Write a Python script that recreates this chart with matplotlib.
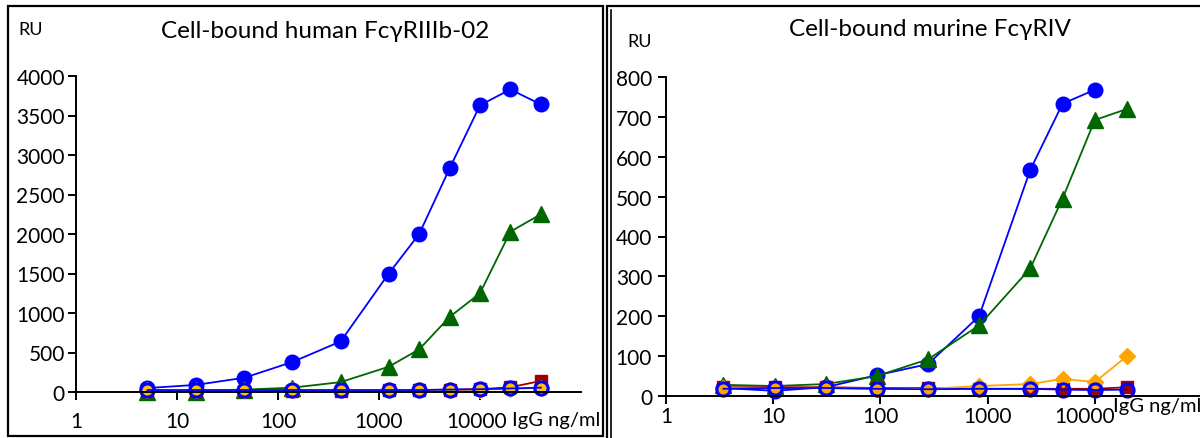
import numpy as np
import matplotlib.pyplot as plt
from matplotlib.patches import Rectangle
from matplotlib.lines import Line2D
from matplotlib.transforms import ScaledTranslation
from matplotlib.ticker import FixedLocator, FixedFormatter, NullLocator

plt.rcParams.update({
    "font.family": ["Lato", "DejaVu Sans"],
})

# IgG concentrations (ng/ml)
conc_human = [5.1, 15.4, 46.3, 139, 417, 1250, 2500, 5000, 10000, 20000, 40000]
conc_murine = [3.43, 10.3, 30.9, 92.6, 278, 833, 2500, 5000, 10000, 20000]

# response units, human FcgRIIIb-02 cells
human_blue = [50, 90, 180, 380, 640, 1500, 2000, 2830, 3630, 3830, 3640]
human_green = [0, 5, 30, 55, 125, 320, 540, 950, 1250, 2030, 2250]
human_red = [15, 15, 15, 15, 15, 20, 25, 30, 35, 60, 140]
human_orange = [20, 20, 20, 20, 20, 20, 25, 25, 30, 40, 50]
human_open = [25, 25, 25, 25, 25, 25, 25, 30, 35, 45, 55]

# response units, murine FcgRIV cells (blue series stops at 10000)
murine_blue = [20, 13, 22, 52, 80, 200, 567, 733, 768]
murine_green = [28, 25, 30, 50, 92, 177, 320, 495, 692, 720]
murine_red = [22, 22, 22, 20, 20, 18, 18, 18, 18, 22]
murine_orange = [20, 20, 20, 18, 18, 25, 30, 43, 35, 100]
murine_open = [18, 20, 20, 18, 17, 18, 18, 16, 15, 16]

decades = [1, 10, 100, 1000, 10000]
decade_labels = ["1", "10", "100", "1000", "10000"]

W, H = 1200, 439
fig = plt.figure(figsize=(W / 100, H / 100), dpi=100)


def px_box(x0, y0, x1, y1):
    # pixel box (top-left origin) -> figure fraction [left, bottom, width, height]
    return [x0 / W, 1 - y1 / H, (x1 - x0) / W, (y1 - y0) / H]


def frame(x0, y0, x1, y1, lw=1.6):
    b = px_box(x0, y0, x1, y1)
    fig.add_artist(Rectangle((b[0], b[1]), b[2], b[3], transform=fig.transFigure,
                             fill=False, edgecolor="black", linewidth=lw, clip_on=False))


frame(8, 7, 603, 437)
frame(607, 7, 1205, 445)
fig.add_artist(Line2D([611 / W, 611 / W], [1 - 11 / H, 0], transform=fig.transFigure,
                      color="black", linewidth=1.2))


def draw_panel(ax, x, series, ymax, ystep, orange_col):
    blue, green, red, orange, hollow = series
    kw = dict(clip_on=False, linewidth=1.3)
    ax.plot(x[:len(blue)], blue, color="#0000FF", marker="o", markersize=10.5,
            markeredgecolor="#0000FF", **kw)
    ax.plot(x, green, color="#006600", marker="^", markersize=11,
            markeredgecolor="#006600", **kw)
    ax.plot(x, red, color="#A00000", marker="s", markersize=8,
            markeredgecolor="#A00000", **kw)
    ax.plot(x, orange, color=orange_col, marker="D", markersize=8.5,
            markeredgecolor=orange_col, **kw)
    ax.plot(x, hollow, color="#0000FF", marker="o", markersize=9.5,
            markerfacecolor="none", markeredgecolor="#0000FF", markeredgewidth=2.2, **kw)

    ax.set_xscale("log")
    ax.set_xlim(1, 1e5)
    ax.set_ylim(0, ymax)
    ax.xaxis.set_major_locator(FixedLocator(decades))
    ax.xaxis.set_major_formatter(FixedFormatter(decade_labels))
    ax.xaxis.set_minor_locator(NullLocator())
    ax.set_yticks(np.arange(0, ymax + 1, ystep))
    for s in ["top", "right"]:
        ax.spines[s].set_visible(False)
    for s in ["left", "bottom"]:
        ax.spines[s].set_linewidth(1.4)
    ax.tick_params(axis="both", direction="out", length=6, width=1.4, labelsize=15)
    ax.set_facecolor("none")


def nudge_last_xlabel(ax, dx_px):
    # shift the "10000" label sideways so it clears the unit text
    tick = ax.xaxis.get_major_ticks()[-1]
    tick.label1.set_transform(tick.label1.get_transform()
                              + ScaledTranslation(dx_px / 100, 0, fig.dpi_scale_trans))


# left panel: human receptor
ax1 = fig.add_axes(px_box(76, 77, 581, 393))
draw_panel(ax1, conc_human,
           (human_blue, human_green, human_red, human_orange, human_open),
           4000, 500, "#FFC000")
ax1.tick_params(axis="x", pad=8)
ax1.tick_params(axis="y", pad=2)
nudge_last_xlabel(ax1, -3)
fig.text(325 / W, 1 - 32 / H, "Cell-bound human FcγRIIIb-02", ha="center", va="center",
         fontsize=17.5)
fig.text(31 / W, 1 - 30 / H, "RU", ha="center", va="center", fontsize=13)
fig.text(556 / W, 1 - 421 / H, "IgG ng/ml", ha="center", va="center", fontsize=14.5)

# right panel: murine receptor
ax2 = fig.add_axes(px_box(666, 78, 1202, 397))
draw_panel(ax2, conc_murine,
           (murine_blue, murine_green, murine_red, murine_orange, murine_open),
           800, 100, "#FFA500")
ax2.tick_params(axis="x", pad=1)
ax2.tick_params(axis="y", pad=4)
nudge_last_xlabel(ax2, -10)
fig.text(930 / W, 1 - 30 / H, "Cell-bound murine FcγRIV", ha="center", va="center",
         fontsize=17.5)
fig.text(640 / W, 1 - 42 / H, "RU", ha="center", va="center", fontsize=13)
fig.text(1157 / W, 1 - 407 / H, "IgG ng/ml", ha="center", va="center", fontsize=14.5)

fig.savefig("out.png", dpi=100, facecolor="white")
